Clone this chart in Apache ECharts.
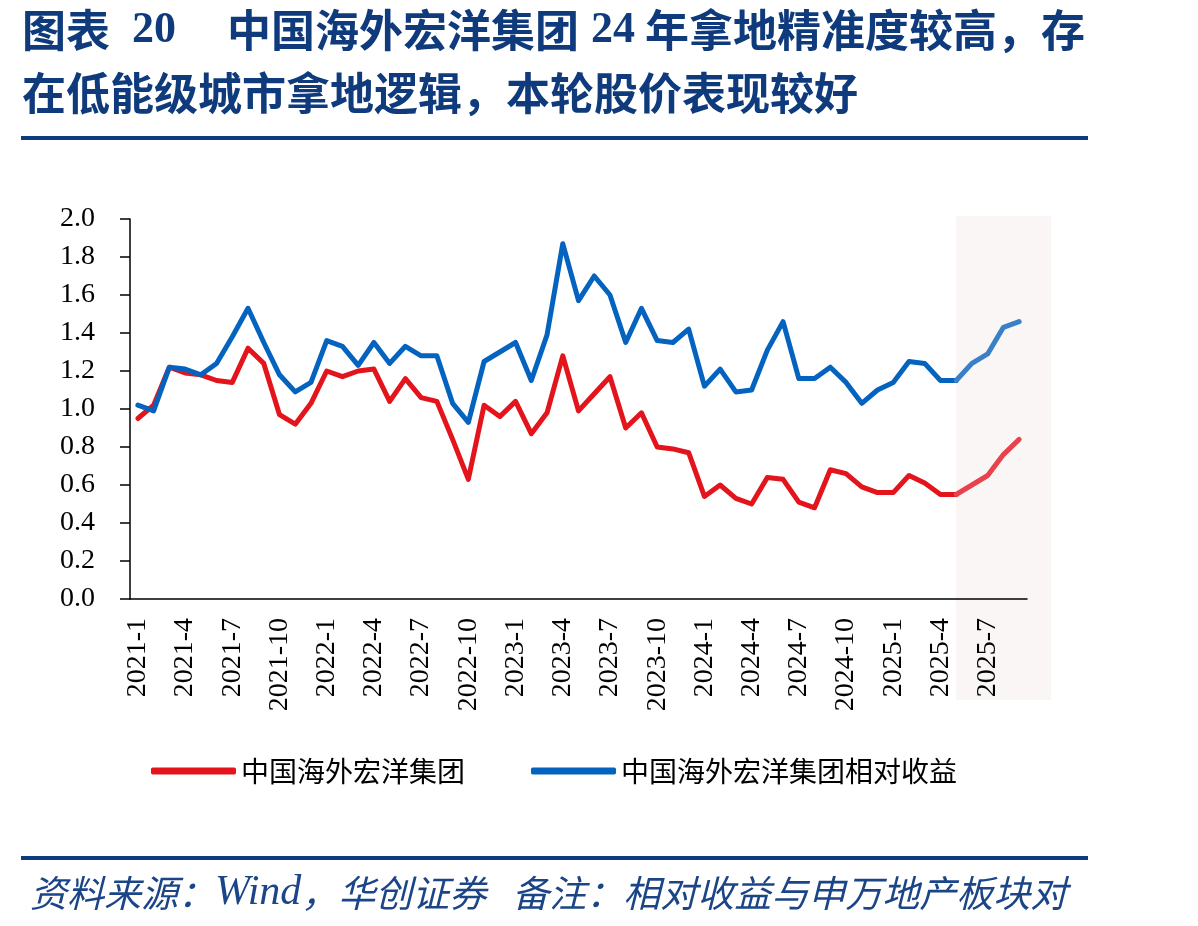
<!DOCTYPE html>
<html>
<head>
<meta charset="utf-8">
<script src="https://cdn.jsdelivr.net/npm/echarts@6/dist/echarts.min.js"></script>
<style>
html, body { margin: 0; padding: 0; background: #fff; }
#main { width: 1198px; height: 926px; }
</style>
</head>
<body>
<div id="main"></div>
<script>
// 月份（2021-1 ~ 2025-9）
var months = [
    '2021-1','2021-2','2021-3','2021-4','2021-5','2021-6','2021-7','2021-8','2021-9','2021-10','2021-11','2021-12',
    '2022-1','2022-2','2022-3','2022-4','2022-5','2022-6','2022-7','2022-8','2022-9','2022-10','2022-11','2022-12',
    '2023-1','2023-2','2023-3','2023-4','2023-5','2023-6','2023-7','2023-8','2023-9','2023-10','2023-11','2023-12',
    '2024-1','2024-2','2024-3','2024-4','2024-5','2024-6','2024-7','2024-8','2024-9','2024-10','2024-11','2024-12',
    '2025-1','2025-2','2025-3','2025-4','2025-5','2025-6','2025-7','2025-8','2025-9'
];
// 中国海外宏洋集团
var priceArr = [
    0.95,1.02,1.22,1.19,1.18,1.15,1.14,1.32,1.24,0.97,0.92,1.03,
    1.20,1.17,1.20,1.21,1.04,1.16,1.06,1.04,0.84,0.63,1.02,0.96,
    1.04,0.87,0.98,1.28,0.99,1.08,1.17,0.90,0.98,0.80,0.79,0.77,
    0.54,0.60,0.53,0.50,0.64,0.63,0.51,0.48,0.68,0.66,0.59,0.56,
    0.56,0.65,0.61,0.55,0.55,0.60,0.65,0.76,0.84
];
// 中国海外宏洋集团相对收益
var relArr = [
    1.02,0.99,1.22,1.21,1.18,1.24,1.38,1.53,1.35,1.18,1.09,1.14,
    1.36,1.33,1.23,1.35,1.24,1.33,1.28,1.28,1.03,0.93,1.25,1.30,
    1.35,1.15,1.39,1.87,1.57,1.70,1.60,1.35,1.53,1.36,1.35,1.42,
    1.12,1.21,1.09,1.10,1.31,1.46,1.16,1.16,1.22,1.14,1.03,1.10,
    1.14,1.25,1.24,1.15,1.15,1.24,1.29,1.43,1.46
];
var yTicks = [0, 2.0, 0.2];      // min, max, interval
var shadeFrom = '2025-5';         // 阴影区起点

var NAME_PRICE = '中国海外宏洋集团';
var NAME_REL = '中国海外宏洋集团相对收益';
var NAVY = '#0f3b7d';

// 阴影区之前 / 之后拆成两段
function before(arr) {
    var k = months.indexOf(shadeFrom);
    return arr.map(function (v, i) { return i <= k ? v : null; });
}
function after(arr) {
    var k = months.indexOf(shadeFrom);
    return arr.map(function (v, i) { return i >= k ? v : null; });
}

function lineSeries(name, data, color, z) {
    return {
        name: name,
        type: 'line',
        data: data,
        symbol: 'none',
        z: z,
        lineStyle: { color: color, width: 5, cap: 'round', join: 'round' },
        itemStyle: { color: color }
    };
}

var chart = echarts.init(document.getElementById('main'));
var option = {
    backgroundColor: '#fff',
    animation: false,
    title: [{
        left: 22,
        top: -1,
        padding: 0,
        text: '{a|图表}{n|20}{a|中国海外宏洋集团}{m|24}{a|年拿地精准度较高，存}\n{a|在低能级城市拿地逻辑，本轮股价表现较好}',
        textStyle: {
            rich: {
                a: { fontSize: 44, fontWeight: 'bold', fontFamily: 'Noto Sans CJK SC', color: NAVY, lineHeight: 63 },
                n: { fontSize: 44, fontWeight: 'bold', fontFamily: 'Liberation Serif', color: NAVY, lineHeight: 63, padding: [0, 51, 0, 22] },
                m: { fontSize: 44, fontWeight: 'bold', fontFamily: 'Liberation Serif', color: NAVY, lineHeight: 63, padding: [0, 10, 0, 12] }
            }
        }
    }, {
        left: 30,
        top: 871,
        padding: 0,
        text: '{a|资料来源：}{w|Wind}{a|，华创证券}{g|备注：相对收益与申万地产板块对}',
        textStyle: {
            fontWeight: 'normal',
            rich: {
                a: { fontSize: 37, fontStyle: 'italic', fontWeight: 'normal', fontFamily: 'Noto Sans CJK SC', color: '#1b4587', lineHeight: 44 },
                w: { fontSize: 42, fontStyle: 'italic', fontWeight: 'normal', fontFamily: 'Liberation Serif', color: '#1b4587', lineHeight: 44 },
                g: { fontSize: 37, fontStyle: 'italic', fontWeight: 'normal', fontFamily: 'Noto Sans CJK SC', color: '#1b4587', lineHeight: 44, padding: [0, 0, 0, 26] }
            }
        }
    }],
    legend: {
        left: 146,
        top: 752,
        itemWidth: 85,
        itemHeight: 7,
        itemGap: 66,
        icon: 'roundRect',
        data: [NAME_PRICE, NAME_REL],
        textStyle: { fontSize: 28, fontFamily: 'Noto Sans CJK SC', color: '#000', padding: [0, 0, 0, 0] }
    },
    grid: { left: 130, right: 171, top: 219, bottom: 327 },
    xAxis: {
        type: 'category',
        data: months,
        boundaryGap: true,
        axisLine: { lineStyle: { color: '#000', width: 1.5 } },
        axisTick: { interval: 2, length: 7, lineStyle: { color: '#000', width: 1.5 } },
        axisLabel: {
            interval: 2,
            rotate: 90,
            margin: 19,
            fontSize: 28,
            fontFamily: 'Liberation Serif',
            color: '#000'
        },
        splitLine: { show: false }
    },
    yAxis: {
        type: 'value',
        min: yTicks[0],
        max: yTicks[1],
        interval: yTicks[2],
        axisLine: { show: true, lineStyle: { color: '#000', width: 1.5 } },
        axisTick: { show: true, length: 10, lineStyle: { color: '#000', width: 1.5 } },
        axisLabel: {
            margin: 35,
            fontSize: 28,
            fontFamily: 'Liberation Serif',
            color: '#000',
            formatter: function (v) { return v.toFixed(1); }
        },
        splitLine: { show: false }
    },
    series: [
        lineSeries(NAME_PRICE, before(priceArr), '#e3141c', 3),
        lineSeries(NAME_PRICE + '_后', after(priceArr), '#e8434c', 3),
        lineSeries(NAME_REL, before(relArr), '#0563c0', 4),
        lineSeries(NAME_REL + '_后', after(relArr), '#3a80c9', 4)
    ]
};
chart.setOption(option);

// 阴影区与标题/来源分隔线
var x0 = chart.convertToPixel({ xAxisIndex: 0 }, shadeFrom);
var yTop = chart.convertToPixel({ yAxisIndex: 0 }, yTicks[1]);
var yBot = chart.convertToPixel({ yAxisIndex: 0 }, yTicks[0]);
chart.setOption({
    graphic: [{
        type: 'rect',
        z: -1,
        shape: { x: x0, y: yTop - 3, width: 95, height: yBot - yTop + 104 },
        style: { fill: '#faf6f5' }
    }, {
        type: 'line',
        shape: { x1: 21, y1: 138, x2: 1088, y2: 138 },
        style: { stroke: NAVY, lineWidth: 4 }
    }, {
        type: 'line',
        shape: { x1: 21, y1: 858, x2: 1088, y2: 858 },
        style: { stroke: NAVY, lineWidth: 4 }
    }]
});
</script>
</body>
</html>
